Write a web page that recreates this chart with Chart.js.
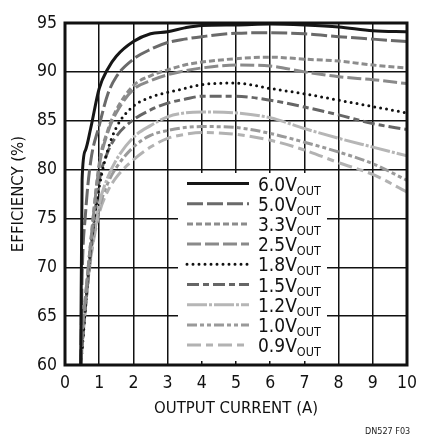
<!DOCTYPE html>
<html>
<head>
<meta charset="utf-8">
<script src="https://cdn.jsdelivr.net/npm/chart.js@4"></script>
<style>
  html, body { margin: 0; padding: 0; background: #fff; }
  #wrap { position: relative; width: 428px; height: 440px; }
</style>
</head>
<body>
<div id="wrap"><canvas id="effChart" width="428" height="440"></canvas></div>
<script>
// Output current (A), shared by every curve
const currentA = [0.46, 0.5, 0.6, 0.75, 1, 1.25, 1.5, 2, 2.5, 3, 3.5, 4, 5, 6, 7, 8, 9, 10];

// Efficiency (%) per output voltage
const eff6V0 = [60, 79, 82, 84.2, 88.3, 90.3, 91.6, 93.1, 93.9, 94.1, 94.5, 94.75, 94.8, 94.9, 94.8, 94.6, 94.2, 94.1];
const eff5V0 = [60, 69, 75.5, 80.8, 84.5, 87.7, 89.5, 91.3, 92.3, 93.0, 93.35, 93.6, 93.95, 94.0, 93.9, 93.6, 93.35, 93.1];
const eff3V3 = [60, 63, 67, 72.5, 80.6, 84, 86.1, 88.6, 89.6, 90.2, 90.7, 91.0, 91.35, 91.5, 91.3, 91.1, 90.7, 90.4];
const eff2V5 = [60, 63, 67, 72.5, 80.3, 83.8, 85.8, 88.2, 89.1, 89.7, 90.1, 90.4, 90.7, 90.6, 90.0, 89.5, 89.2, 88.8];
const eff1V8 = [60, 61.5, 66, 72, 78.2, 82, 84.3, 86.5, 87.4, 87.9, 88.3, 88.7, 88.85, 88.3, 87.75, 87.1, 86.45, 85.8];
const eff1V5 = [60, 62, 66, 71.5, 78.8, 81.8, 83.4, 85.1, 86.1, 86.8, 87.2, 87.5, 87.5, 87.1, 86.4, 85.6, 84.7, 84.1];
const eff1V2 = [60, 62, 66, 71.2, 76.5, 79.2, 81.0, 83.3, 84.5, 85.4, 85.8, 85.9, 85.8, 85.3, 84.2, 83.2, 82.3, 81.4];
const eff1V0 = [60, 62, 66, 71, 76, 78.6, 80.2, 82.3, 83.5, 84.0, 84.3, 84.4, 84.3, 83.7, 82.8, 81.8, 80.6, 78.9];
const eff0V9 = [60, 62, 66, 70.8, 75.5, 77.8, 79.2, 81.0, 82.3, 83.2, 83.6, 83.8, 83.6, 83.0, 82.0, 80.7, 79.5, 77.7];

const seriesLabels = ['6.0V', '5.0V', '3.3V', '2.5V', '1.8V', '1.5V', '1.2V', '1.0V', '0.9V'];
const seriesValues = [eff6V0, eff5V0, eff3V3, eff2V5, eff1V8, eff1V5, eff1V2, eff1V0, eff0V9];

const xTicks = [0, 10, 1];   // min, max, step
const yTicks = [60, 95, 5];

const FONT = "'DejaVu Sans Condensed', 'Liberation Sans', sans-serif";

// line looks, same order as the series
const styles = [
    { color: '#161616', dash: [] },
    { color: '#6a6a6a', dash: [16, 4] },
    { color: '#8c8c8c', dash: [6, 3] },
    { color: '#8a8a8a', dash: [14, 4] },
    { color: '#111111', dash: [0, 6], cap: 'round' },
    { color: '#666666', dash: [12, 4, 6, 4] },
    { color: '#b6b6b6', dash: [20, 2, 3, 2] },
    { color: '#9a9a9a', dash: [10, 3, 4, 3, 4, 3] },
    { color: '#b2b2b2', dash: [14, 5, 7, 5] }
];

const datasets = seriesLabels.map((label, i) => ({
    label,
    data: currentA.map((x, k) => ({ x, y: seriesValues[i][k] })),
    showLine: true,
    borderColor: styles[i].color,
    borderWidth: 3,
    borderDash: styles[i].dash,
    borderCapStyle: styles[i].cap || 'butt',
    pointRadius: 0,
    cubicInterpolationMode: 'monotone'
}));

// full black frame round the plot
const framePlugin = {
    id: 'frame',
    afterDatasetsDraw(chart) {
        const { ctx, chartArea: a } = chart;
        ctx.save();
        ctx.strokeStyle = '#111';
        ctx.lineWidth = 3;
        ctx.strokeRect(a.left, a.top, a.right - a.left, a.bottom - a.top);
        ctx.restore();
    }
};

// legend with subscripted OUT, white box inside the plot
const legendPlugin = {
    id: 'voutLegend',
    afterDatasetsDraw(chart) {
        const { ctx, chartArea: a } = chart;
        const left = a.left + 113, top = a.top + 150;
        ctx.save();
        ctx.fillStyle = '#fff';
        ctx.fillRect(left, top, 149, 188);
        chart.data.datasets.forEach((ds, i) => {
            const y = top + 10.5 + i * 20.2;
            ctx.beginPath();
            ctx.strokeStyle = ds.borderColor;
            ctx.lineWidth = ds.borderWidth;
            ctx.setLineDash(ds.borderDash);
            ctx.lineCap = ds.borderCapStyle;
            ctx.moveTo(left + 9, y);
            ctx.lineTo(left + 71, y);
            ctx.stroke();
            ctx.setLineDash([]);
            ctx.fillStyle = '#111';
            ctx.textBaseline = 'alphabetic';
            ctx.font = '19px ' + FONT;
            ctx.fillText(ds.label, left + 80, y + 7);
            const w = ctx.measureText(ds.label).width;
            ctx.font = '12.5px ' + FONT;
            ctx.fillText('OUT', left + 80 + w, y + 11);
        });
        ctx.font = '9px ' + FONT;
        ctx.fillStyle = '#222';
        ctx.fillText('DN527 F03', 365, 434);
        ctx.restore();
    }
};

Chart.defaults.font.family = FONT;
Chart.defaults.color = '#111';

new Chart(document.getElementById('effChart'), {
    type: 'scatter',
    data: { datasets },
    options: {
        responsive: false,
        animation: false,
        devicePixelRatio: 1,
        layout: { padding: { top: 23, right: 21, bottom: 0, left: 0 } },
        plugins: { legend: { display: false }, tooltip: { enabled: false } },
        scales: {
            x: {
                type: 'linear',
                min: xTicks[0], max: xTicks[1],
                ticks: { stepSize: xTicks[2], padding: 8, font: { size: 17.5 } },
                grid: { color: '#111', lineWidth: 1.5, drawTicks: false },
                border: { display: false },
                title: { display: true, text: 'OUTPUT CURRENT (A)', font: { size: 16.6 }, padding: { bottom: 21 } },
                afterFit: s => { s.height = 75; }
            },
            y: {
                min: yTicks[0], max: yTicks[1],
                ticks: { stepSize: yTicks[2], padding: 8, font: { size: 17.5 } },
                grid: { color: '#111', lineWidth: 1.5, drawTicks: false },
                border: { display: false },
                title: { display: true, text: 'EFFICIENCY (%)', font: { size: 16.6 }, padding: { top: 9 } },
                afterFit: s => { s.width = 65; }
            }
        }
    },
    plugins: [framePlugin, legendPlugin]
});
</script>
</body>
</html>
